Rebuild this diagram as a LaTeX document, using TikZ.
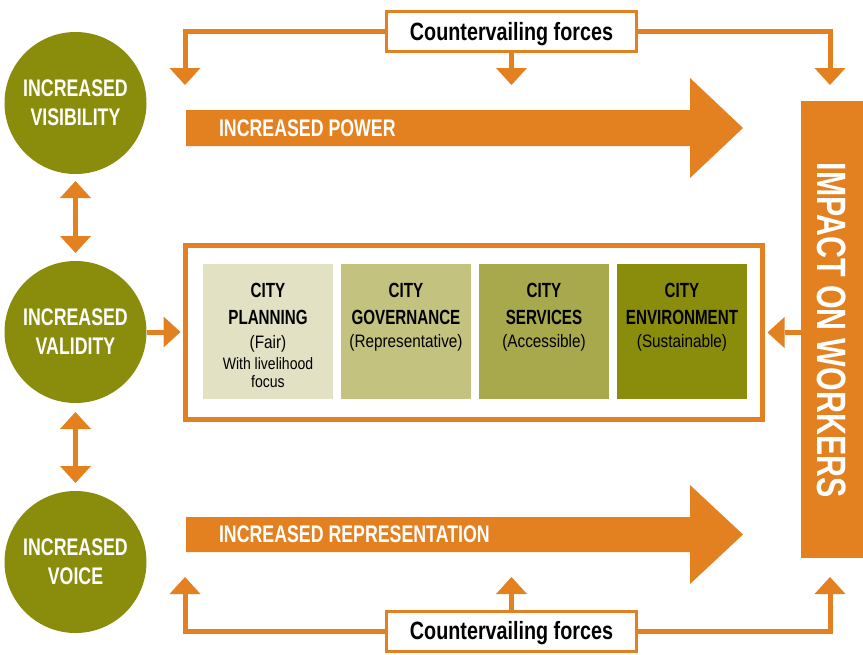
\documentclass[tikz,border=0pt]{standalone}
\usepackage{fontspec}
\setmainfont{Liberation Sans}
\newfontfamily\condf{Liberation Sans}[FakeStretch=0.74]
\newfontfamily\condc{Liberation Sans}[FakeStretch=0.79]
\newfontfamily\condr{Liberation Sans}[FakeStretch=0.85]
\usetikzlibrary{arrows.meta,calc}
\definecolor{cforange}{HTML}{E3801F}
\definecolor{olive}{HTML}{8A8C0C}
\definecolor{boxA}{HTML}{E2E1C3}
\definecolor{boxB}{HTML}{C3C27F}
\definecolor{boxC}{HTML}{A8A84C}
\definecolor{boxD}{HTML}{8A8C0B}
\begin{document}
\begin{tikzpicture}[x=1pt,y=-1pt,
  every node/.style={outer sep=0pt},
  cfarrow/.style={draw=cforange, line width=5pt,
    -{Triangle[width=31pt,length=17pt,line width=0pt]}},
  cfdouble/.style={draw=cforange, line width=5pt,
    {Triangle[width=31pt,length=17pt,line width=0pt]}-{Triangle[width=31pt,length=17pt,line width=0pt]}},
  goal/.style={circle, fill=olive, minimum size=142pt, inner sep=0pt,
    text=white, align=center, font=\condf\bfseries\fontsize{24}{29}\selectfont},
  forcebox/.style={draw=cforange, line width=3pt, fill=white,
    minimum width=250pt, minimum height=40pt, inner sep=0pt,
    text height=18pt, text depth=1pt,
    font=\condc\bfseries\fontsize{25}{28}\selectfont},
  citybox/.style={minimum width=130pt, minimum height=135pt, inner sep=0pt},
  citytext/.style={anchor=north, inner sep=0pt, align=center,
    font=\condf\bfseries\fontsize{20.5}{27}\selectfont},
  bigtext/.style={anchor=west, inner sep=0pt, text=white,
    font=\condf\bfseries\fontsize{24}{28}\selectfont}
]
\useasboundingbox (0,0) rectangle (863,654);

% three outcome circles
\node[goal] (vis) at (75.5,103) {INCREASED\\VISIBILITY};
\node[goal] (val) at (75.5,332) {INCREASED\\VALIDITY};
\node[goal] (voice) at (75.5,562) {INCREASED\\VOICE};

\draw[cfdouble] ([yshift=-7pt]vis.south) -- ([yshift=8pt]val.north);
\draw[cfdouble] ([yshift=-9pt]val.south) -- ([yshift=8pt]voice.north);

% broad arrows
\fill[cforange] (186,110) -- (690,110) -- (690,78) -- (743,128)
  -- (690,178) -- (690,146) -- (186,146) -- cycle;
\node[bigtext] (power) at (219,128) {INCREASED POWER};
\fill[cforange] (186,517) -- (690,517) -- (690,485) -- (743,534.5)
  -- (690,584) -- (690,552) -- (186,552) -- cycle;
\node[bigtext] (repr) at (219,534.5) {INCREASED REPRESENTATION};

% impact bar
\node[fill=cforange, minimum width=62pt, minimum height=457pt, inner sep=0pt]
  (impact) at (832,329.5) {};
\node[rotate=-90, text=white, inner sep=0pt,
  font=\condf\bfseries\fontsize{41}{44}\selectfont] (impactlbl) at (832,330)
  {IMPACT ON WORKERS};

% city frame and its four domains
\node[draw=cforange, line width=5pt, fill=white, minimum width=577pt,
  minimum height=174pt, inner sep=0pt] (frame) at (474,332.5) {};
\node[citybox, fill=boxA] (plan) at (268,331.5) {};
\node[citybox, fill=boxB] (gov)  at (406,331.5) {};
\node[citybox, fill=boxC] (serv) at (544,331.5) {};
\node[citybox, fill=boxD] (env)  at (682,331.5) {};

\node[citytext] (planlbl) at (268,283) {CITY\\PLANNING\\[-3pt]
  {\condr\mdseries\fontsize{18}{27}\selectfont (Fair)}\\[-6pt]
  {\condr\mdseries\fontsize{16.5}{27}\selectfont With livelihood}\\[-9pt]
  {\condr\mdseries\fontsize{16.5}{27}\selectfont focus}};
\node[citytext] (govlbl) at (406,283) {CITY\\GOVERNANCE\\[-4pt]
  {\condr\mdseries\fontsize{18}{27}\selectfont (Representative)}};
\node[citytext] (servlbl) at (544,283) {CITY\\SERVICES\\[-4pt]
  {\condr\mdseries\fontsize{18}{27}\selectfont (Accessible)}};
\node[citytext] (envlbl) at (682,283) {CITY\\ENVIRONMENT\\[-4pt]
  {\condr\mdseries\fontsize{18}{27}\selectfont (Sustainable)}};

\draw[cfarrow] (val.east) -- ($(frame.west|-val.east)+(-5,0)$);
\draw[cfarrow] (impact.west|-frame.east) -- ($(frame.east)+(5,0)$);

% countervailing forces, top and bottom
\node[forcebox] (topcf) at (511.5,31.5) {Countervailing forces};
\coordinate (tl) at (185,85);
\coordinate (tm) at (511.5,85);
\coordinate (tr) at (830,85);
\draw[cfarrow] (topcf.west) -| (tl);
\draw[cfarrow] (topcf.south) -- (tm);
\draw[cfarrow] (topcf.east) -| (tr);

\node[forcebox] (botcf) at (511.5,631) {Countervailing forces};
\coordinate (bl) at (185,577);
\coordinate (bm) at (511.5,577);
\coordinate (br) at (830,577);
\draw[cfarrow] (botcf.west) -| (bl);
\draw[cfarrow] (botcf.north) -- (bm);
\draw[cfarrow] (botcf.east) -| (br);
\end{tikzpicture}
\end{document}
